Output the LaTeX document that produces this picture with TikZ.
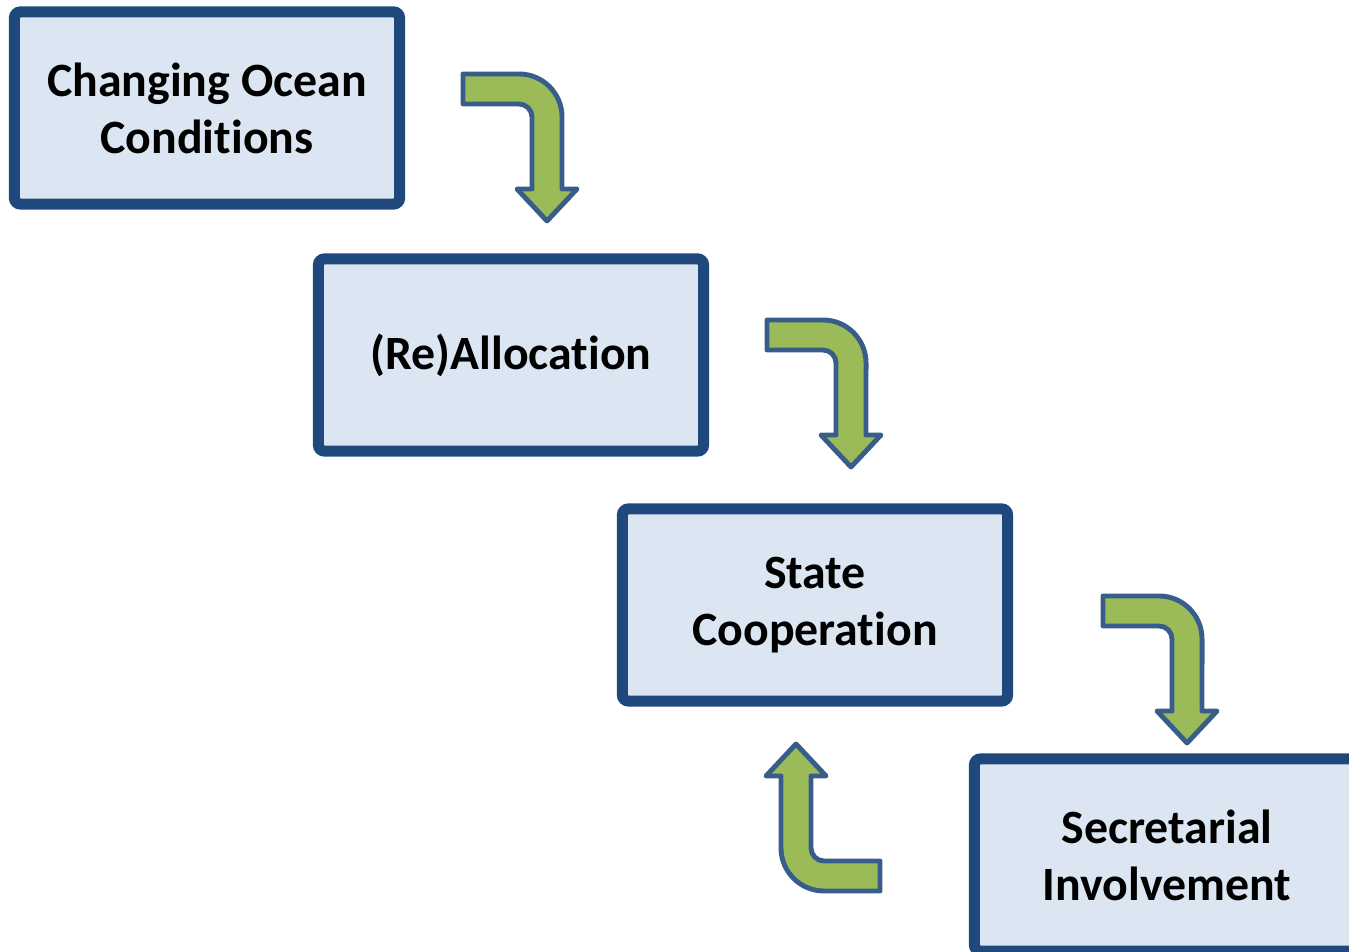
\documentclass[tikz,border=0pt]{standalone}
\usepackage{fontspec}
\setmainfont{Carlito}[Ligatures=NoCommon]
\definecolor{boxblue}{HTML}{1F497D}
\definecolor{boxfill}{HTML}{DCE6F2}
\definecolor{arrowgreen}{HTML}{9BBB59}
\definecolor{arrowblue}{HTML}{385D8A}
\begin{document}
\begin{tikzpicture}[x=0.01cm,y=0.01cm]
		\tikzstyle{Step} = [rectangle, minimum width=3.85cm, minimum height=1.92cm, align=center, draw=boxblue, line width=0.11cm, fill=boxfill, rounded corners=0.6mm, font=\fontsize{13.6pt}{16.2pt}\selectfont\bfseries]
		\tikzstyle{BentArrow} = [draw=arrowblue, fill=arrowgreen, line width=1.4pt, line join=round]
		
		\clip (0,0) rectangle (1349,952);
		\node (ocean) [Step] at (207,844) {Changing Ocean\\Conditions};
		\node (realloc) [Step] at (511,597) {(Re)Allocation};
		\node (state) [Step] at (815,347) {State\\Cooperation};
		\node (secretarial) [Step] at (1167,97) {Secretarial\\Involvement};
		% bent arrows between the steps
		\foreach \x/\y/\r in {463/878/0, 767/632/0, 1103/356/0, 880/61/180}
		\draw [BentArrow, shift={(\x,\y)}, rotate=\r] (0,0) -- (56,0) arc[start angle=90, end angle=0, radius=0.43cm] -- (99,-115) -- (114,-115) -- (84,-147) -- (54,-115) -- (69,-115) -- (69,-43) arc[start angle=0, end angle=90, radius=0.13cm] -- (0,-30) -- cycle;
\end{tikzpicture}
\end{document}
